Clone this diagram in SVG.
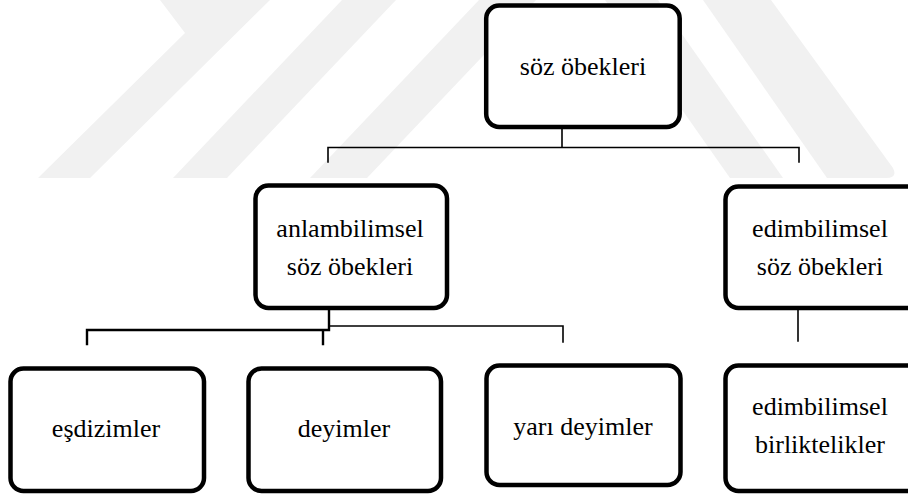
<svg xmlns="http://www.w3.org/2000/svg" width="908" height="494" viewBox="0 0 908 494">
  <style>
    .box { fill: #ffffff; stroke: #000000; stroke-width: 4.5; }
    .lbl { font-size: 26px; fill: #000000; text-anchor: middle; }
    .wire { fill: none; stroke: #000000; stroke-width: 1.6; stroke-linecap: square; }
    .wire-bold { fill: none; stroke: #000000; stroke-width: 2.4; stroke-linecap: square; }
    .mark { fill: #f1f1f1; }
  </style>

  <rect x="0" y="0" width="908" height="494" fill="#ffffff"/>

  <!-- faint background emblem -->
  <g id="emblem">
    <polygon class="mark" points="160,0 270,0 90,178 38,178 185,33"/>
    <polygon class="mark" points="342,0 396,0 227,178 173,178"/>
    <polygon class="mark" points="479,0 536,0 367,178 310,178"/>
    <polygon class="mark" points="605,0 658,0 783,178 730,178"/>
    <path class="mark" d="M703,0 L771,0 L893,168 Q898,178 886,178 L827,178 Z"/>
  </g>

  <!-- connectors -->
  <g id="connectors">
    <path class="wire" d="M562,129 V147.5 M328,147.5 H799 M328,147.5 V162 M799,147.5 V162"/>
    <path class="wire-bold" d="M329,310 V330 M87,330 H329 M87,330 V344 M323,330 V344"/>
    <path class="wire" d="M329,326 H563 V342"/>
    <path class="wire" d="M798,310 V341"/>
  </g>

  <g font-family="Liberation Serif, DejaVu Serif, serif">
    <g id="node-soz-obekleri">
      <rect class="box" x="486.2" y="5.5" width="193.5" height="121.5" rx="13"/>
      <text class="lbl" x="583" y="75">söz öbekleri</text>
    </g>

    <g id="node-anlambilimsel">
      <rect class="box" x="255.5" y="185.5" width="191.5" height="122.5" rx="13"/>
      <text class="lbl" x="350" y="237">anlambilimsel</text>
      <text class="lbl" x="350" y="275">söz öbekleri</text>
    </g>

    <g id="node-edimbilimsel">
      <rect class="box" x="725.5" y="186.5" width="200" height="121.5" rx="13"/>
      <text class="lbl" x="820" y="237">edimbilimsel</text>
      <text class="lbl" x="820" y="275">söz öbekleri</text>
    </g>

    <g id="node-esdizimler">
      <rect class="box" x="10.5" y="368.5" width="193.5" height="122.5" rx="13"/>
      <text class="lbl" x="106" y="437">eşdizimler</text>
    </g>

    <g id="node-deyimler">
      <rect class="box" x="248.5" y="368.5" width="192.5" height="122.5" rx="13"/>
      <text class="lbl" x="344" y="437">deyimler</text>
    </g>

    <g id="node-yari-deyimler">
      <rect class="box" x="486.5" y="365.5" width="194" height="119.5" rx="13"/>
      <text class="lbl" x="583" y="435">yarı deyimler</text>
    </g>

    <g id="node-edimbilimsel-birliktelikler">
      <rect class="box" x="725.5" y="365.5" width="200" height="125.5" rx="13"/>
      <text class="lbl" x="820" y="415">edimbilimsel</text>
      <text class="lbl" x="820" y="453">birliktelikler</text>
    </g>
  </g>
</svg>
